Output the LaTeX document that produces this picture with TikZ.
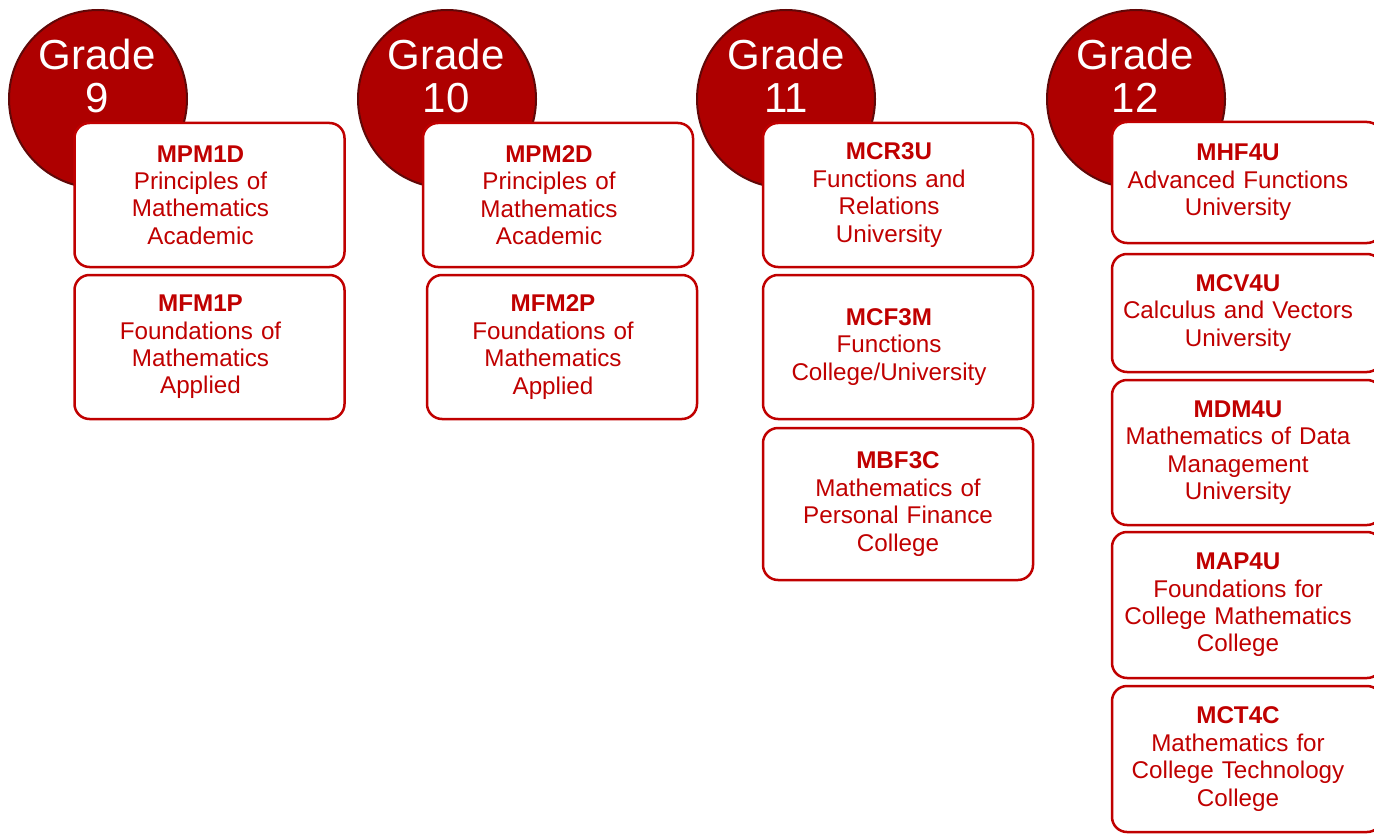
\documentclass[tikz,border=0pt]{standalone}
\usepackage{fontspec}
\setmainfont{Liberation Sans}
\usepackage{tikz}
\definecolor{coursered}{RGB}{192,0,0}
\definecolor{gradefill}{RGB}{174,0,0}
\definecolor{gradeedge}{RGB}{96,8,8}
\tikzstyle{gradedot}=[circle,fill=gradefill,draw=gradeedge,line width=1pt,minimum size=89pt,inner sep=0pt]
\tikzstyle{gradetext}=[text=white,align=center,font=\fontsize{21}{21.5}\selectfont,inner sep=0pt]
\tikzstyle{course}=[draw=coursered,fill=white,text=coursered,line width=1.25pt,rounded corners=7.5pt,
  text width=135pt,minimum height=72pt,inner sep=0pt,font=\fontsize{12.1}{13.7}\selectfont,
  execute at begin node={\centering\rightskip=9pt plus 1fil\leftskip=0pt plus 1fil\relax}]
\tikzstyle{coursecentred}=[course,execute at begin node={\centering}]
\newcommand{\pxunit}{0.5pt}

\begin{document}
\begin{tikzpicture}[x=\pxunit,y=-\pxunit]
    \useasboundingbox (0,0) rectangle (1374,834);
    % grade circles
    \node[gradedot] (G9)  at (98,99)   {};
    \node[gradedot] (G10) at (447,99)  {};
    \node[gradedot] (G11) at (786,99)  {};
    \node[gradedot] (G12) at (1136,99) {};
    \node[gradetext] (G9t)  at (97,76)   {Grade\\9};
    \node[gradetext] (G10t) at (446,76)  {Grade\\10};
    \node[gradetext] (G11t) at (786,76)  {Grade\\11};
    \node[gradetext] (G12t) at (1135,76) {Grade\\12};
    % grade 9
    \node[course] (MPM1D) at (209.5,195) {\textbf{MPM1D}\\Principles of\\Mathematics\\Academic};
    \node[course] (MFM1P) at (209.5,347) {\textbf{MFM1P}\\Foundations of\\Mathematics\\Applied};
    % grade 10
    \node[course] (MPM2D) at (558,195) {\textbf{MPM2D}\\Principles of\\Mathematics\\Academic};
    \node[course] (MFM2P) at (562,347) {\textbf{MFM2P}\\Foundations of\\Mathematics\\Applied};
    % grade 11
    \node[course] (MCR3U) at (898,195) {\textbf{MCR3U}\\Functions and\\Relations\\University};
    \node[course] (MCF3M) at (898,347) {\textbf{MCF3M}\\Functions\\College/University};
    \node[coursecentred,minimum height=76pt] (MBF3C) at (898,504) {\textbf{MBF3C}\\Mathematics of\\Personal Finance\\College};
    % grade 12
    \node[course,minimum height=60.5pt] (MHF4U) at (1247,182.5) {\textbf{MHF4U}\\Advanced Functions\\University};
    \node[course,minimum height=59pt]   (MCV4U) at (1247,313)   {\textbf{MCV4U}\\Calculus and Vectors\\University};
    \node[course,minimum height=72.5pt] (MDM4U) at (1247,452.5) {\textbf{MDM4U}\\Mathematics of Data\\Management\\University};
    \node[course,minimum height=73pt]   (MAP4U) at (1247,605)   {\textbf{MAP4U}\\Foundations for\\College Mathematics\\College};
    \node[course,minimum height=73pt]   (MCT4C) at (1247,759)   {\textbf{MCT4C}\\Mathematics for\\College Technology\\College};
\end{tikzpicture}
\end{document}
